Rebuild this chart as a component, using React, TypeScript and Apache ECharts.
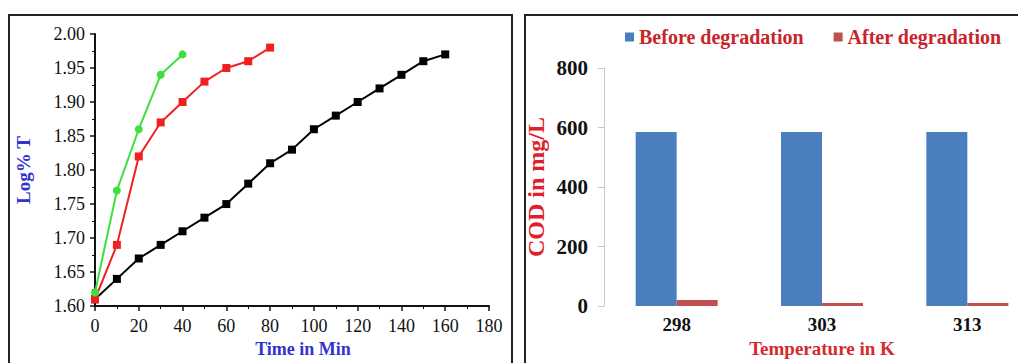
import React, { useEffect, useRef } from "react";
import * as echarts from "echarts";

// Left chart data (Time in Min vs Log% T)
const timeBlack = [0, 10, 20, 30, 40, 50, 60, 70, 80, 90, 100, 110, 120, 130, 140, 150, 160];
const logBlack = [1.61, 1.64, 1.67, 1.69, 1.71, 1.73, 1.75, 1.78, 1.81, 1.83, 1.86, 1.88, 1.90, 1.92, 1.94, 1.96, 1.97];
const timeRed = [0, 10, 20, 30, 40, 50, 60, 70, 80];
const logRed = [1.61, 1.69, 1.82, 1.87, 1.90, 1.93, 1.95, 1.96, 1.98];
const timeGreen = [0, 10, 20, 30, 40];
const logGreen = [1.62, 1.77, 1.86, 1.94, 1.97];

// Right chart data (COD)
const temperatures = ["298", "303", "313"];
const codBefore = [585, 585, 585];
const codAfter = [20, 10, 10];

const SERIF = "'Liberation Serif', 'Times New Roman', serif";

export default function App() {
  const ref = useRef<HTMLDivElement>(null);
  useEffect(() => {
    if (!ref.current) return;
    const chart = echarts.init(ref.current, null, { renderer: "svg" });
    const zip = (xs: number[], ys: number[]) => xs.map((x, i) => [x, ys[i]]);
    chart.setOption({
      animation: false,
      backgroundColor: "#ffffff",
      textStyle: { fontFamily: SERIF },
      graphic: [
        { type: "rect", shape: { x: 9, y: 15, width: 503, height: 360 }, style: { fill: "none", stroke: "#222", lineWidth: 2 } },
        { type: "rect", shape: { x: 525, y: 15, width: 530, height: 360 }, style: { fill: "none", stroke: "#222", lineWidth: 2 } },
      ],
      legend: {
        left: 620,
        top: 22,
        width: 420,
        itemWidth: 9,
        itemHeight: 9,
        itemGap: 30,
        icon: "rect",
        data: ["Before degradation", "After degradation"],
        textStyle: { color: "#c8242b", fontWeight: "bold", fontSize: 20, fontFamily: SERIF },
      },
      grid: [
        { left: 95, top: 34, right: 551, bottom: 50 },
        { left: 604, right: 0, top: 68, bottom: 56 },
      ],
      xAxis: [
        {
          gridIndex: 0,
          type: "value",
          min: 0,
          max: 180,
          interval: 20,
          name: "Time in Min",
          nameLocation: "middle",
          nameGap: 27,
          nameTextStyle: { color: "#3333cc", fontWeight: "bold", fontSize: 18, fontFamily: SERIF, padding: [0, 0, 0, 22] },
          axisLine: { show: true, lineStyle: { color: "#111", width: 2 } },
          axisTick: { show: true, length: 5, lineStyle: { color: "#111", width: 1.5 } },
          minorTick: { show: true, splitNumber: 2, length: 3, lineStyle: { color: "#111" } },
          axisLabel: { color: "#111", fontSize: 18, margin: 11, fontFamily: SERIF },
          splitLine: { show: false },
        },
        {
          gridIndex: 1,
          type: "category",
          data: temperatures,
          name: "Temperature in K",
          nameLocation: "middle",
          nameGap: 33,
          nameTextStyle: { color: "#d42a2f", fontWeight: "bold", fontSize: 19, fontFamily: SERIF },
          axisLine: { show: false },
          axisTick: { show: false },
          axisLabel: { color: "#111", fontSize: 19, fontWeight: "bold", margin: 9, fontFamily: SERIF },
        },
      ],
      yAxis: [
        {
          gridIndex: 0,
          type: "value",
          min: 1.6,
          max: 2.0,
          interval: 0.05,
          name: "Log% T",
          nameLocation: "middle",
          nameGap: 62,
          nameTextStyle: { color: "#3333cc", fontWeight: "bold", fontSize: 19, fontFamily: SERIF },
          axisLine: { show: true, lineStyle: { color: "#111", width: 2 } },
          axisTick: { show: true, length: 5, lineStyle: { color: "#111", width: 1.5 } },
          minorTick: { show: true, splitNumber: 2, length: 3, lineStyle: { color: "#111" } },
          axisLabel: { color: "#111", fontSize: 18, margin: 10, fontFamily: SERIF, formatter: (v: number) => v.toFixed(2) },
          splitLine: { show: false },
        },
        {
          gridIndex: 1,
          type: "value",
          min: 0,
          max: 800,
          interval: 200,
          name: "COD in mg/L",
          nameLocation: "middle",
          nameGap: 56,
          nameTextStyle: { color: "#e0202a", fontWeight: "bold", fontSize: 24, fontFamily: SERIF },
          axisLine: { show: true, lineStyle: { color: "#c8c8c8", width: 1 } },
          axisTick: { show: true, length: 6, lineStyle: { color: "#c8c8c8" } },
          axisLabel: { color: "#111", fontSize: 21, fontWeight: "bold", margin: 16, fontFamily: SERIF },
          splitLine: { show: false },
        },
      ],
      series: [
        {
          type: "line",
          xAxisIndex: 0,
          yAxisIndex: 0,
          data: zip(timeBlack, logBlack),
          symbol: "rect",
          symbolSize: 8,
          lineStyle: { color: "#000", width: 2 },
          itemStyle: { color: "#000" },
        },
        {
          type: "line",
          xAxisIndex: 0,
          yAxisIndex: 0,
          data: zip(timeRed, logRed),
          symbol: "rect",
          symbolSize: 8,
          lineStyle: { color: "#f02020", width: 2 },
          itemStyle: { color: "#f02020" },
        },
        {
          type: "line",
          xAxisIndex: 0,
          yAxisIndex: 0,
          data: zip(timeGreen, logGreen),
          symbol: "circle",
          symbolSize: 8,
          lineStyle: { color: "#3ee03e", width: 2 },
          itemStyle: { color: "#3ee03e" },
        },
        {
          name: "Before degradation",
          type: "bar",
          xAxisIndex: 1,
          yAxisIndex: 1,
          data: codBefore,
          barWidth: 41,
          barGap: "0%",
          itemStyle: { color: "#4a7ebf" },
        },
        {
          name: "After degradation",
          type: "bar",
          xAxisIndex: 1,
          yAxisIndex: 1,
          data: codAfter,
          barWidth: 41,
          barGap: "0%",
          itemStyle: { color: "#c0504d" },
        },
      ],
    });
    return () => chart.dispose();
  }, []);
  return (
    <div style={{ position: "fixed", left: 0, top: 0, width: 1018, height: 363, overflow: "hidden", background: "#fff" }}>
      <div ref={ref} style={{ width: 1040, height: 363 }} />
    </div>
  );
}
